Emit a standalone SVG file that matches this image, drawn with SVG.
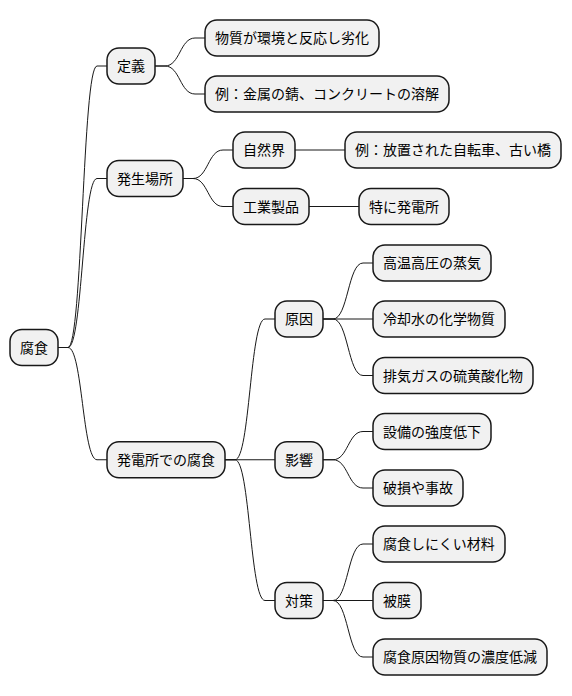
<svg xmlns="http://www.w3.org/2000/svg" width="572" height="696" viewBox="0 0 572 696">
<style>
.n rect{fill:#F1F1F1;stroke:#181818;stroke-width:1.5}
.n text{font-family:"Noto Sans CJK JP","Noto Sans",sans-serif;font-size:14px;fill:#000}
.c path{fill:none;stroke:#181818;stroke-width:1}
</style>
<rect width="572" height="696" fill="#FFFFFF"/>
<g class="c" id="connectors">
<path d="M58,347.5 L68,347.5 C82.5,347.5 82.5,66 97,66 L107,66"/>
<path d="M58,347.5 L68,347.5 C82.5,347.5 82.5,178.5 97,178.5 L107,178.5"/>
<path d="M58,347.5 L68,347.5 C82.5,347.5 82.5,459.75 97,459.75 L107,459.75"/>
<path d="M155,66 L165,66 C180,66 180,38 195,38 L205,38"/>
<path d="M155,66 L165,66 C180,66 180,94 195,94 L205,94"/>
<path d="M183,178.5 L193,178.5 C208,178.5 208,150 223,150 L233,150"/>
<path d="M183,178.5 L193,178.5 C208,178.5 208,206.5 223,206.5 L233,206.5"/>
<path d="M295,150 L345,150"/>
<path d="M309,206.5 L359,206.5"/>
<path d="M225,459.75 L235,459.75 C250,459.75 250,319 265,319 L275,319"/>
<path d="M225,459.75 L275,459.75"/>
<path d="M225,459.75 L235,459.75 C250,459.75 250,600.5 265,600.5 L275,600.5"/>
<path d="M323,319 L333,319 C348,319 348,263 363,263 L373,263"/>
<path d="M323,319 L373,319"/>
<path d="M323,319 L333,319 C348,319 348,375.5 363,375.5 L373,375.5"/>
<path d="M323,459.75 L333,459.75 C348,459.75 348,431.5 363,431.5 L373,431.5"/>
<path d="M323,459.75 L333,459.75 C348,459.75 348,488 363,488 L373,488"/>
<path d="M323,600.5 L333,600.5 C348,600.5 348,544 363,544 L373,544"/>
<path d="M323,600.5 L373,600.5"/>
<path d="M323,600.5 L333,600.5 C348,600.5 348,657 363,657 L373,657"/>
</g>
<g class="n" id="n0"><rect x="10" y="329.5" width="48" height="36" rx="12"/><text x="20" y="352.5">腐食</text></g>
<g class="n" id="n1"><rect x="107" y="48" width="48" height="36" rx="12"/><text x="117" y="71">定義</text></g>
<g class="n" id="n1a"><rect x="205" y="20" width="174" height="36" rx="12"/><text x="215" y="43">物質が環境と反応し劣化</text></g>
<g class="n" id="n1b"><rect x="205" y="76" width="244" height="36" rx="12"/><text x="215" y="99">例：金属の錆、コンクリートの溶解</text></g>
<g class="n" id="n2"><rect x="107" y="160.5" width="76" height="36" rx="12"/><text x="117" y="183.5">発生場所</text></g>
<g class="n" id="n2a"><rect x="233" y="132" width="62" height="36" rx="12"/><text x="243" y="155">自然界</text></g>
<g class="n" id="n2a1"><rect x="345" y="132" width="216" height="36" rx="12"/><text x="355" y="155">例：放置された自転車、古い橋</text></g>
<g class="n" id="n2b"><rect x="233" y="188.5" width="76" height="36" rx="12"/><text x="243" y="211.5">工業製品</text></g>
<g class="n" id="n2b1"><rect x="359" y="188.5" width="90" height="36" rx="12"/><text x="369" y="211.5">特に発電所</text></g>
<g class="n" id="n3"><rect x="107" y="441.75" width="118" height="36" rx="12"/><text x="117" y="464.75">発電所での腐食</text></g>
<g class="n" id="n3a"><rect x="275" y="301" width="48" height="36" rx="12"/><text x="285" y="324">原因</text></g>
<g class="n" id="n3a1"><rect x="373" y="245" width="118" height="36" rx="12"/><text x="383" y="268">高温高圧の蒸気</text></g>
<g class="n" id="n3a2"><rect x="373" y="301" width="132" height="36" rx="12"/><text x="383" y="324">冷却水の化学物質</text></g>
<g class="n" id="n3a3"><rect x="373" y="357.5" width="160" height="36" rx="12"/><text x="383" y="380.5">排気ガスの硫黄酸化物</text></g>
<g class="n" id="n3b"><rect x="275" y="441.75" width="48" height="36" rx="12"/><text x="285" y="464.75">影響</text></g>
<g class="n" id="n3b1"><rect x="373" y="413.5" width="118" height="36" rx="12"/><text x="383" y="436.5">設備の強度低下</text></g>
<g class="n" id="n3b2"><rect x="373" y="470" width="90" height="36" rx="12"/><text x="383" y="493">破損や事故</text></g>
<g class="n" id="n3c"><rect x="275" y="582.5" width="48" height="36" rx="12"/><text x="285" y="605.5">対策</text></g>
<g class="n" id="n3c1"><rect x="373" y="526" width="132" height="36" rx="12"/><text x="383" y="549">腐食しにくい材料</text></g>
<g class="n" id="n3c2"><rect x="373" y="582.5" width="48" height="36" rx="12"/><text x="383" y="605.5">被膜</text></g>
<g class="n" id="n3c3"><rect x="373" y="639" width="174" height="36" rx="12"/><text x="383" y="662">腐食原因物質の濃度低減</text></g>
</svg>
